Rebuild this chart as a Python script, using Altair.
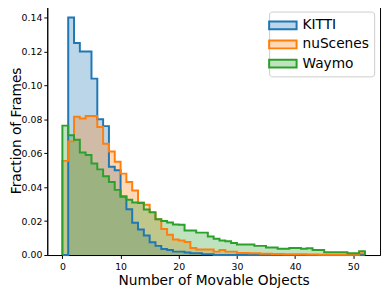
import altair as alt
import pandas as pd

series = ["KITTI", "nuScenes", "Waymo"]
colors = ["#1f77b4", "#ff7f0e", "#2ca02c"]
fills = ["rgba(31,119,180,0.3)", "rgba(255,127,14,0.3)", "rgba(44,160,44,0.3)"]
bin_edges = list(range(0, 53))

kitti = [0.0, 0.140, 0.125, 0.120, 0.120, 0.104, 0.080, 0.076, 0.052, 0.050,
         0.0345, 0.027, 0.019, 0.015, 0.0115, 0.0075, 0.0054, 0.0035, 0.003, 0.002,
         0.002, 0.0015, 0.001, 0.001, 0.0005, 0.0005, 0.0, 0.0, 0.0, 0.0,
         0.0, 0.0, 0.0, 0.0, 0.0, 0.0, 0.0, 0.0, 0.0, 0.0,
         0.0, 0.0, 0.0, 0.0, 0.0, 0.0, 0.0, 0.0, 0.0, 0.0,
         0.0, 0.0]
nuscenes = [0.0555, 0.067, 0.0815, 0.0805, 0.082, 0.082, 0.0755, 0.0656, 0.061, 0.055,
            0.048, 0.0431, 0.038, 0.031, 0.0297, 0.025, 0.0211, 0.0154, 0.0119, 0.0092,
            0.0086, 0.0077, 0.0042, 0.0033, 0.0033, 0.0033, 0.002, 0.0029, 0.002, 0.002,
            0.0012, 0.0012, 0.001, 0.001, 0.0008, 0.0008, 0.0006, 0.0006, 0.0005, 0.0005,
            0.0004, 0.0004, 0.0003, 0.0003, 0.0002, 0.0002, 0.0002, 0.0002, 0.0001, 0.0001,
            0.0001, 0.001]
waymo = [0.0763, 0.0706, 0.068, 0.0604, 0.059, 0.054, 0.0505, 0.0465, 0.0431, 0.0384,
         0.0345, 0.0326, 0.031, 0.0307, 0.0269, 0.0253, 0.0211, 0.0201, 0.0192, 0.0180,
         0.0178, 0.0144, 0.0144, 0.0132, 0.0132, 0.0109, 0.0096, 0.0086, 0.0081, 0.0071,
         0.0062, 0.0062, 0.0062, 0.0054, 0.0054, 0.0044, 0.0044, 0.0037, 0.0037, 0.0042,
         0.0042, 0.0037, 0.0040, 0.0029, 0.0029, 0.0016, 0.0016, 0.0016, 0.0016, 0.001,
         0.001, 0.0023]

area_rows, line_rows = [], []
for name, vals in zip(series, [kitti, nuscenes, waymo]):
    pts = list(zip(bin_edges[:-1], vals)) + [(bin_edges[-1], vals[-1])]
    for i, (x, y) in enumerate(pts):
        area_rows.append({"series": name, "x": x, "y": y, "i": i})
    lpts = [(bin_edges[0], 0.0)] + pts + [(bin_edges[-1], 0.0)]
    for i, (x, y) in enumerate(lpts):
        line_rows.append({"series": name, "x": x, "y": y, "i": i})

area_df = pd.DataFrame(area_rows)
line_df = pd.DataFrame(line_rows)

W, H = 339, 254
xscale = alt.Scale(domain=[-2.6, 54.6], nice=False, zero=False)
yscale = alt.Scale(domain=[0, 0.147], nice=False)
fscale = alt.Scale(domain=series, range=fills)
sscale = alt.Scale(domain=series, range=colors)

xaxis = alt.Axis(title="Number of Movable Objects", values=[0, 10, 20, 30, 40, 50],
                 format="d", labelPadding=3, titlePadding=3)
yaxis = alt.Axis(title="Fraction of Frames", values=[0, 0.02, 0.04, 0.06, 0.08, 0.10, 0.12, 0.14],
                 format=".2f", labelPadding=2, labelOverlap=False,
                 titleX=-27, titleY=H / 2, titleBaseline="alphabetic")

legend = alt.Legend(
    title=None, orient="top-right", offset=6,
    symbolType="M-1.75,-0.5H1.75V0.5H-1.75Z", symbolSize=256,
    symbolStrokeWidth=2, symbolOffset=0,
    labelFontSize=14, labelOffset=11, rowPadding=2.5,
    padding=5, strokeColor="#cccccc", fillColor="white", cornerRadius=3,
)

layers = []
for name, col in zip(series, colors):
    layers.append(
        alt.Chart(area_df).transform_filter(alt.datum.series == name)
        .mark_area(interpolate="step-after", fill=col, fillOpacity=0.3, stroke=None)
        .encode(
            x=alt.X("x:Q", scale=xscale, axis=xaxis),
            y=alt.Y("y:Q", scale=yscale, axis=yaxis),
            y2=alt.datum(0),
        )
    )

# legend carrier (no rows pass the filter; entries come from the scale domain)
legend_layer = alt.Chart(area_df).transform_filter(alt.datum.x > 1000).mark_area().encode(
    x=alt.X("x:Q", scale=xscale, axis=xaxis),
    y=alt.Y("y:Q", scale=yscale, axis=yaxis, stack=None),
    fill=alt.Fill("series:N", scale=fscale, sort=series, legend=legend),
)

line = alt.Chart(line_df).mark_line(interpolate="step-after", strokeWidth=2).encode(
    x=alt.X("x:Q", scale=xscale, axis=xaxis),
    y=alt.Y("y:Q", scale=yscale, axis=yaxis, stack=None),
    stroke=alt.Stroke("series:N", scale=sscale, sort=series, legend=legend),
    detail="series:N",
    order=alt.Order("i:Q"),
)

chart = alt.layer(*layers, legend_layer, line).properties(
    width=W, height=H,
    autosize=alt.AutoSizeParams(type="none"),
    padding={"left": 40, "top": -5, "right": 2, "bottom": 34},
).configure(font="DejaVu Sans").configure_view(
    stroke="black", strokeWidth=1
).configure_axis(
    grid=False, domainColor="black", tickColor="black", labelColor="black",
    titleColor="black", labelFontSize=9.5, titleFontSize=14, titleFontWeight="normal",
    tickSize=3.5, domainWidth=1, tickWidth=1, labelOverlap=False
)

chart.save("out.html", embed_options={"renderer": "svg", "actions": False})
